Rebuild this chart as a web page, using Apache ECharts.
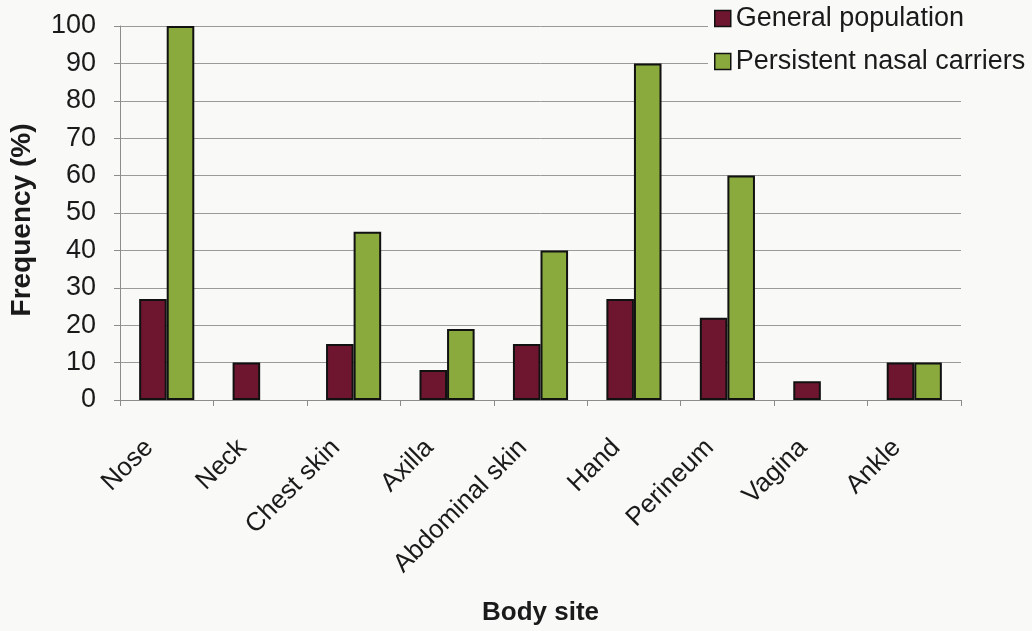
<!DOCTYPE html>
<html>
<head>
<meta charset="utf-8">
<script src="https://cdn.jsdelivr.net/npm/echarts@6/dist/echarts.min.js"></script>
<style>
  html, body { margin: 0; padding: 0; background: #f9f9f7; overflow: hidden; }
  #chart { width: 1032px; height: 631px; }
</style>
</head>
<body>
<div id="chart"></div>
<script>
// Body sites sampled and carriage frequency (%) per group
const sites = ['Nose', 'Neck', 'Chest skin', 'Axilla', 'Abdominal skin', 'Hand', 'Perineum', 'Vagina', 'Ankle'];
const generalPopulation = [27, 10, 15, 8, 15, 27, 22, 5, 10];
const persistentCarriers = [100, null, 45, 19, 40, 90, 60, null, 10];
const seriesNames = ['General population', 'Persistent nasal carriers'];
const yTicks = { min: 0, max: 100, interval: 10 };

const font = '"Liberation Sans", Arial, sans-serif';
const chart = echarts.init(document.getElementById('chart'), null, { renderer: 'canvas', width: 1032, height: 631 });

chart.setOption({
  backgroundColor: '#f9f9f7',
  animation: false,
  textStyle: { fontFamily: font },
  grid: { left: 116, width: 845, top: 26, height: 376, containLabel: false },
  legend: {
    orient: 'vertical',
    left: 708,
    top: 0,
    padding: [5, 6, 4, 6],
    backgroundColor: '#f9f9f7',
    itemWidth: 16,
    itemHeight: 16,
    itemGap: 16,
    icon: 'rect',
    itemStyle: { borderColor: '#111', borderWidth: 1.5 },
    textStyle: { fontSize: 27, lineHeight: 26, color: '#1a1a1a', fontFamily: font },
    data: seriesNames
  },
  xAxis: {
    type: 'category',
    data: sites,
    boundaryGap: true,
    axisLine: { lineStyle: { color: '#8c8c8c', width: 1 } },
    axisTick: { show: true, length: 6, lineStyle: { color: '#8c8c8c' } },
    axisLabel: {
      interval: 0,
      rotate: 45,
      margin: 26,
      padding: [0, 25, 0, 0],
      fontSize: 26,
      color: '#1a1a1a',
      fontFamily: font
    },
    name: 'Body site',
    nameLocation: 'middle',
    nameGap: 200,
    nameTextStyle: { fontSize: 26, fontWeight: 'bold', color: '#1a1a1a', fontFamily: font }
  },
  yAxis: {
    type: 'value',
    min: yTicks.min,
    max: yTicks.max,
    interval: yTicks.interval,
    axisLine: { show: true, lineStyle: { color: '#8c8c8c', width: 1 } },
    axisTick: { show: true, length: 6, lineStyle: { color: '#8c8c8c' } },
    splitLine: { show: true, lineStyle: { color: '#9a9a9a', width: 1 } },
    axisLabel: { fontSize: 27, color: '#1a1a1a', margin: 24, fontFamily: font },
    name: 'Frequency (%)',
    nameLocation: 'middle',
    nameGap: 84,
    nameTextStyle: { fontSize: 28, fontWeight: 'bold', color: '#1a1a1a', fontFamily: font, padding: [0, 14, 0, 0] }
  },
  series: [
    {
      name: seriesNames[0],
      type: 'bar',
      data: generalPopulation,
      barGap: '0%',
      barCategoryGap: '41%',
      itemStyle: { color: '#6e1630', borderColor: '#111', borderWidth: 2 }
    },
    {
      name: seriesNames[1],
      type: 'bar',
      data: persistentCarriers,
      barGap: '0%',
      barCategoryGap: '41%',
      itemStyle: { color: '#8aaa3e', borderColor: '#111', borderWidth: 2 }
    }
  ]
});
</script>
</body>
</html>
